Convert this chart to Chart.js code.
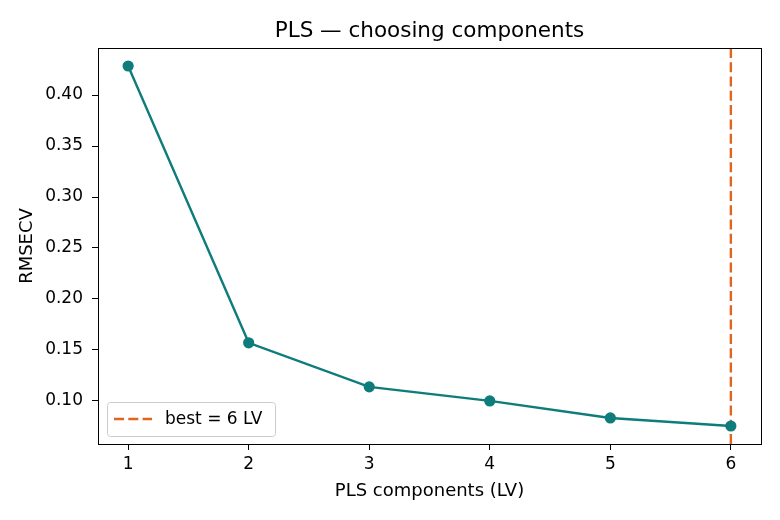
<!DOCTYPE html>
<html>
<head>
<meta charset="utf-8">
<script src="https://cdn.jsdelivr.net/npm/chart.js@4/dist/chart.umd.min.js"></script>
<style>
    html, body { margin: 0; padding: 0; background: #fff; }
    #wrap { width: 780px; height: 520px; }
</style>
</head>
<body>
<div id="wrap"><canvas id="myChart" width="780" height="520"></canvas></div>
<script>
const components = [1, 2, 3, 4, 5, 6];
const rmsecv = [0.4285, 0.157, 0.1138, 0.1, 0.0833, 0.0754];
const xTicks = [1, 2, 3, 4, 5, 6];
const yTicks = [0.10, 0.15, 0.20, 0.25, 0.30, 0.35, 0.40];
const chartTitle = "PLS — choosing components";

const teal = "#0e7c7b";
const orange = "#e0661f";

// best = smallest RMSECV
const bestLV = components[rmsecv.indexOf(Math.min(...rmsecv))];

// matplotlib-like 5% margins
const xMin = components[0] - 0.05 * (components[components.length - 1] - components[0]);
const xMax = components[components.length - 1] + 0.05 * (components[components.length - 1] - components[0]);
const yLo = Math.min(...rmsecv), yHi = Math.max(...rmsecv);
const yMin = yLo - 0.05 * (yHi - yLo);
const yMax = yHi + 0.05 * (yHi - yLo);

Chart.defaults.font.family = "'DejaVu Sans', sans-serif";
Chart.defaults.color = "#000";

// box around the plot + title centred over the axes
const frame = {
    id: "frame",
    afterDatasetsDraw(chart) {
        const a = chart.chartArea;
        const c = chart.ctx;
        c.save();
        c.strokeStyle = "#000";
        c.lineWidth = 1;
        c.strokeRect(Math.round(a.left) + 0.5, Math.round(a.top) + 0.5,
            Math.round(a.right - a.left), Math.round(a.bottom - a.top));
        c.fillStyle = "#000";
        c.font = "21.5px 'DejaVu Sans'";
        c.textAlign = "center";
        c.textBaseline = "middle";
        c.fillText(chartTitle, (a.left + a.right) / 2, a.top - 17);
        c.restore();
    },
};

const legendBox = {
    id: "legendBox",
    afterDatasetsDraw(chart) {
        const a = chart.chartArea;
        const c = chart.ctx;
        const ds = chart.data.datasets[1];
        const x = a.left + 9, y = a.bottom - 42, w = 168, h = 34;
        c.save();
        c.beginPath();
        c.roundRect(x + 0.5, y + 0.5, w, h, 3);
        c.fillStyle = "rgba(255,255,255,0.8)";
        c.fill();
        c.strokeStyle = "#cccccc";
        c.lineWidth = 1;
        c.stroke();
        c.beginPath();
        c.setLineDash(ds.borderDash);
        c.strokeStyle = ds.borderColor;
        c.lineWidth = ds.borderWidth;
        c.moveTo(x + 7, y + h / 2);
        c.lineTo(x + 45, y + h / 2);
        c.stroke();
        c.setLineDash([]);
        c.fillStyle = "#000";
        c.font = "17px 'DejaVu Sans'";
        c.textBaseline = "middle";
        c.fillText(ds.label, x + 58, y + h / 2 + 1);
        c.restore();
    },
};

const ctx = document.getElementById("myChart").getContext("2d");
const myChart = new Chart(ctx, {
    type: "line",
    data: {
        datasets: [
            {
                label: "RMSECV",
                data: components.map((c, i) => ({ x: c, y: rmsecv[i] })),
                borderColor: teal,
                backgroundColor: teal,
                borderWidth: 2.4,
                pointRadius: 5.6,
                pointBorderWidth: 0,
                pointBackgroundColor: teal,
                tension: 0,
            },
            {
                label: `best = ${bestLV} LV`,
                data: [{ x: bestLV, y: yMin }, { x: bestLV, y: yMax }],
                borderColor: orange,
                borderWidth: 2.4,
                borderDash: [10, 4.3],
                pointRadius: 0,
            },
        ],
    },
    options: {
        responsive: false,
        animation: false,
        layout: { padding: { left: 0, right: 19, top: 48, bottom: 0 } },
        plugins: {
            legend: { display: false },
            tooltip: { enabled: false },
            title: { display: false },
        },
        scales: {
            x: {
                type: "linear",
                min: xMin,
                max: xMax,
                afterBuildTicks: (axis) => { axis.ticks = xTicks.map((v) => ({ value: v })); },
                afterFit: (axis) => { axis.height = 76; },
                grid: { drawOnChartArea: false, drawTicks: true, tickLength: 6, color: "#000" },
                border: { display: true, color: "#000" },
                ticks: { font: { size: 17 }, color: "#000", padding: 4, maxRotation: 0 },
                title: { display: true, text: "PLS components (LV)", font: { size: 18 }, padding: { top: 4, bottom: 18 } },
            },
            y: {
                type: "linear",
                min: yMin,
                max: yMax,
                afterBuildTicks: (axis) => { axis.ticks = yTicks.map((v) => ({ value: v })); },
                afterFit: (axis) => { axis.width = 98; },
                grid: { drawOnChartArea: false, drawTicks: true, tickLength: 6, color: "#000" },
                border: { display: true, color: "#000" },
                ticks: { font: { size: 17 }, color: "#000", padding: 9, callback: (v) => v.toFixed(2) },
                title: { display: true, text: "RMSECV", font: { size: 18 }, padding: { top: 17, bottom: 4 } },
            },
        },
    },
    plugins: [frame, legendBox],
});
</script>
</body>
</html>
